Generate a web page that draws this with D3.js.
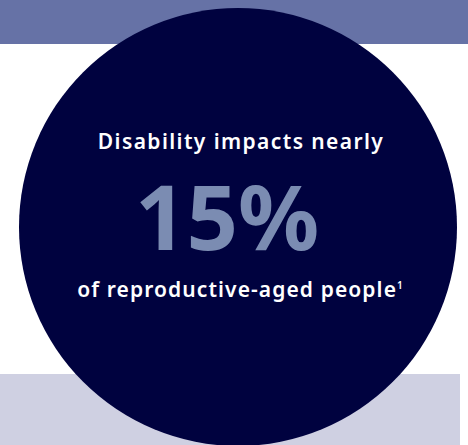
<!DOCTYPE html>
<html>
<head>
<meta charset="utf-8">
<script src="https://cdn.jsdelivr.net/npm/d3@7"></script>
<style>
  html, body { margin: 0; padding: 0; background: #fff; }
  svg { display: block; }
</style>
</head>
<body>
<svg id="chart" width="468" height="445"></svg>
<script>
// headline stat
const statValue = [15]
const statUnit = "%"
const headLines = ["Disability impacts nearly"]
const footLines = ["of reproductive-aged people"]
const footnotes = ["1"]

var svg = d3.select("#chart")
var width = +svg.attr("width")
var height = +svg.attr("height")

// bands behind the circle
svg.append("rect")
  .attr("x", 0).attr("y", 0)
  .attr("width", width).attr("height", 44)
  .attr("fill", "#6672a6")

svg.append("rect")
  .attr("x", 0).attr("y", 374)
  .attr("width", 460).attr("height", height - 374)
  .attr("fill", "#cfd0e2")

svg.append("circle")
  .attr("cx", 238).attr("cy", 227).attr("r", 219)
  .attr("fill", "#00023f")

var g = svg.append("g").attr("transform", "translate(240,0)")

g.append("text")
  .attr("x", 1)
  .attr("y", 149)
  .attr("text-anchor", "middle")
  .attr("fill", "#fff")
  .style("font-family", "'Noto Sans', sans-serif")
  .style("font-weight", 600)
  .style("font-size", "21px")
  .style("letter-spacing", "1.4px")
  .text(headLines[0])

g.append("text")
  .attr("x", -13)
  .attr("y", 250)
  .attr("text-anchor", "middle")
  .attr("fill", "#7b8cb2")
  .style("font-family", "'Noto Sans', sans-serif")
  .style("font-weight", 700)
  .style("font-size", "90px")
  .text(d3.format("d")(statValue[0]) + statUnit)

var foot = g.append("text")
  .attr("y", 297)
  .attr("text-anchor", "middle")
  .attr("fill", "#fff")
  .style("font-family", "'Noto Sans', sans-serif")
  .style("font-weight", 600)
  .style("font-size", "21px")
  .style("letter-spacing", "1.1px")

foot.append("tspan").text(footLines[0])
foot.append("tspan")
  .attr("dy", -8)
  .attr("dx", 0)
  .style("font-size", "10px")
  .style("letter-spacing", "0px")
  .text(footnotes[0])
</script>
</body>
</html>
